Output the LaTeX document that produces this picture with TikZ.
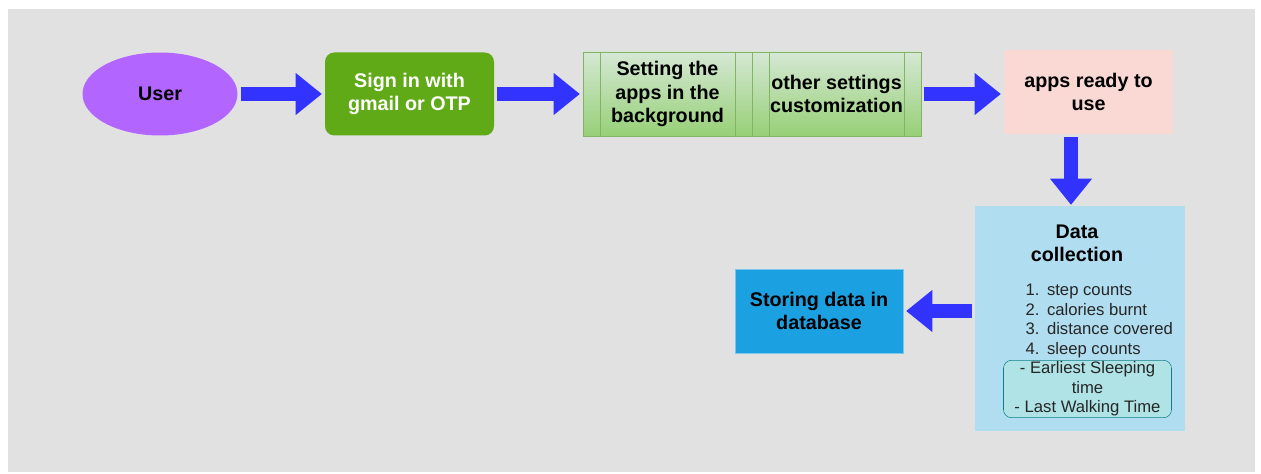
\documentclass[tikz,border=0pt]{standalone}
\usepackage{fontspec}
\setmainfont{Liberation Sans}
\usetikzlibrary{positioning,arrows.meta,shapes.geometric}

\definecolor{bggray}{HTML}{E1E1E1}
\definecolor{arrowblue}{HTML}{3333FF}
\definecolor{userpurple}{HTML}{B266FF}
\definecolor{signgreen}{HTML}{60A917}
\definecolor{proctop}{HTML}{D5E8D4}
\definecolor{procbot}{HTML}{97D077}
\definecolor{procline}{HTML}{82B366}
\definecolor{readypink}{HTML}{FAD9D5}
\definecolor{datablue}{HTML}{B1DDF0}
\definecolor{storeblue}{HTML}{1BA1E2}
\definecolor{storeline}{HTML}{7CC6EC}
\definecolor{sleepfill}{HTML}{B0E3E6}
\definecolor{sleepline}{HTML}{0E8088}

\begin{document}
\begin{tikzpicture}[x=0.75pt,y=-0.75pt,
  bigfont/.style={font=\fontsize{14.8}{17.5}\selectfont\bfseries},
  smallfont/.style={font=\fontsize{12.5}{14.7}\selectfont},
  fatarrow/.style={draw=arrowblue, line width=10.5pt,
    -{Triangle[length=19.5pt,width=31.5pt,line width=0pt]},
    shorten <=2.25pt, shorten >=2.25pt},
  procbox/.style={bigfont, align=center, draw=procline, top color=proctop,
    bottom color=procbot, minimum width=126.75pt, minimum height=63pt,
    path picture={
      \draw[procline] ([xshift=12.75pt]path picture bounding box.north west)
        -- ([xshift=12.75pt]path picture bounding box.south west);
      \draw[procline] ([xshift=-12.75pt]path picture bounding box.north east)
        -- ([xshift=-12.75pt]path picture bounding box.south east);}}]
  \useasboundingbox (0,0) rectangle (1261,474);
  \fill[white] (0,0) rectangle (1261,474);
  \fill[bggray] (8,9) rectangle (1255,472);

  % top row
  \node[ellipse, fill=userpurple, bigfont, minimum width=116.25pt,
    minimum height=62.25pt] (user) at (160,94) {User};
  \node[rounded corners=7pt, fill=signgreen, text=white, bigfont, align=center,
    minimum width=126.75pt, minimum height=62.25pt] (signin) at (409.5,94)
    {Sign in with\\gmail or OTP};
  \node[procbox] (proc1) at (667.5,94) {Setting the\\apps in the\\background};
  \node[procbox] (proc2) at (836.5,94) {other settings\\customization};
  \node[fill=readypink, bigfont, align=center, minimum width=126.75pt,
    minimum height=63pt] (apps) at (1088.5,92) {apps ready to\\use};

  % data collection
  \node[fill=datablue, minimum width=157.5pt, minimum height=168.75pt] (data)
    at (1080,318.5) {};
  \node[bigfont, align=center] (datatitle) at (1077,243) {Data\\collection};
  \node[smallfont, align=left, anchor=west, text=black!85] (datalist)
    at (1021,321) {1.\ \,step counts\\2.\ \,calories burnt\\
    3.\ \,distance covered\\4.\ \,sleep counts};
  \node[smallfont, align=center, text=black!85, draw=sleepline, fill=sleepfill,
    rounded corners=6pt, minimum width=126pt, minimum height=42pt,
    inner sep=1pt] (sleep) at (1087.5,389)
    {- Earliest Sleeping\\time\\- Last Walking Time};

  \node[fill=storeblue, draw=storeline, bigfont, align=center,
    minimum width=126pt, minimum height=63pt] (store) at (819,311)
    {Storing data in\\database};

  \draw[fatarrow] (user) -- (signin);
  \draw[fatarrow] (signin) -- (proc1);
  \draw[fatarrow] (proc2.east) -- (proc2.east -| apps.west);
  \draw[fatarrow, shorten >=0.75pt] ([xshift=-13.1pt]apps.south)
    -- ([xshift=-13.1pt]apps.south |- data.north);
  \draw[fatarrow] (data.west |- store.east) -- (store.east);
\end{tikzpicture}
\end{document}
